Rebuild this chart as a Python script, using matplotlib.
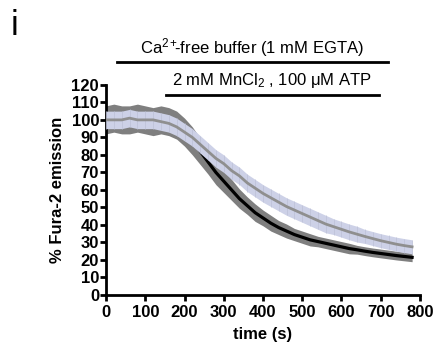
import matplotlib.pyplot as plt
import numpy as np
from matplotlib.lines import Line2D

plt.rcParams['font.family'] = ['Liberation Sans', 'DejaVu Sans']
plt.rcParams['mathtext.fontset'] = 'custom'
plt.rcParams['mathtext.rm'] = 'Liberation Sans'
plt.rcParams['mathtext.it'] = 'Liberation Sans:italic'

time_s = np.arange(0, 800, 20)
ctrl_mean = [100, 101, 100, 100, 101, 100, 99, 100, 99, 97,
             93, 88, 82, 76, 70, 65, 60, 55, 51, 47,
             44, 41, 38.5, 36.5, 34.5, 33, 31.5, 30.5, 29.5, 28.5,
             27.5, 26.5, 25.8, 25, 24.3, 23.7, 23.1, 22.5, 22, 21.5]
ctrl_err = [8, 8, 8, 8, 8, 8, 8, 8, 8, 8,
            8, 8, 7.5, 7, 7, 6.5, 6, 5.5, 5, 5,
            4.5, 4.5, 4, 4, 3.5, 3.5, 3.5, 3, 3, 3,
            3, 3, 2.5, 2.5, 2.5, 2.5, 2.5, 2.5, 2.5, 2.5]
treat_mean = [100, 100, 100, 101, 100, 100, 100, 99, 98, 96,
              93, 90, 86, 82, 78, 75, 71, 68, 64, 61,
              58, 55.5, 53, 50.5, 48.5, 46.5, 44.5, 42.5, 40.5, 39,
              37.5, 36, 34.7, 33.4, 32.2, 31, 30, 29, 28.2, 27.5]
treat_err = [5, 5, 5, 5, 5, 5, 5, 5, 5, 5,
             5, 5, 5, 5, 5, 5, 5, 5, 5, 5,
             5, 5, 5, 5, 5, 5, 5, 5, 5, 4.5,
             4.5, 4.5, 4.5, 4, 4, 4, 4, 4, 4, 4]

x_ticks = list(range(0, 801, 100))
y_ticks = list(range(0, 121, 10))

fig = plt.figure(figsize=(4.37, 3.45), dpi=100)
ax = fig.add_axes([0.2426, 0.145, 0.7184, 0.609])

cm = np.array(ctrl_mean); ce = np.array(ctrl_err)
tm = np.array(treat_mean); te = np.array(treat_err)

ax.fill_between(time_s, cm - ce, cm + ce, color='#7f7f7f', lw=0, zorder=1)
ax.plot(time_s, cm, color='black', lw=2.3, zorder=2)
ax.fill_between(time_s, tm - te, tm + te, color='#cdd1e7', lw=0, zorder=3)
ax.errorbar(time_s, tm, yerr=te, fmt='none', ecolor='#bcc0d6', elinewidth=0.5, zorder=3)
ax.plot(time_s, tm, color='#8f8f8f', lw=2, zorder=4)

ax.set_xlim(0, 800)
ax.set_ylim(0, 120)
ax.set_xticks(x_ticks)
ax.set_yticks(y_ticks)
ax.spines['top'].set_visible(False)
ax.spines['right'].set_visible(False)
for s in ['left', 'bottom']:
    ax.spines[s].set_linewidth(2)
ax.tick_params(width=2, length=4, direction='out', pad=1, labelsize=12)
for lb in ax.get_xticklabels() + ax.get_yticklabels():
    lb.set_fontweight('bold')
ax.tick_params(axis='x', pad=3)
ax.set_xlabel('time (s)', fontsize=12, fontweight='bold', labelpad=5)
ax.set_ylabel('% Fura-2 emission', fontsize=12, fontweight='bold', labelpad=5)

fig.text(0.025, 0.925, 'i', fontsize=25, va='center')
fig.add_artist(Line2D([117 / 437, 388 / 437], [1 - 62 / 345] * 2, color='black', lw=2))
fig.text(252 / 437, 1 - 48 / 345, 'Ca$^{2+}\\!\\!$-free buffer (1 mM EGTA)', ha='center', va='center', fontsize=12)
fig.add_artist(Line2D([166 / 437, 379 / 437], [1 - 95 / 345] * 2, color='black', lw=2))
fig.text(272 / 437, 1 - 80 / 345, '2 mM MnCl$_2$ , 100 μM ATP', ha='center', va='center', fontsize=12)

fig.savefig('out.png', dpi=100)
